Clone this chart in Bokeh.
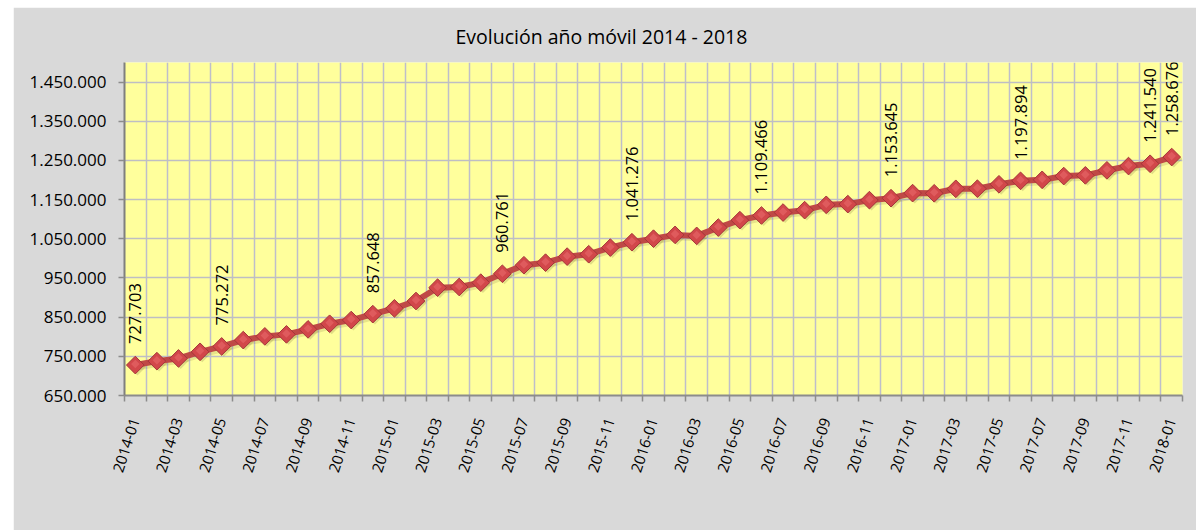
import math
from bokeh.plotting import figure
from bokeh.models import FixedTicker, Range1d
from bokeh.embed import file_html
from bokeh.resources import INLINE
from bokeh.core.properties import value

# ---- data ----
months = [f"{y}-{m:02d}" for y in range(2014, 2018) for m in range(1, 13)] + ["2018-01"]
values = [
    727703, 737700, 744600, 761500, 775272, 791400, 800900, 806000, 818800, 833100,
    842600, 857648, 872500, 891200, 925200, 927000, 938000, 960761, 982500, 989100,
    1004500, 1010600, 1027500, 1041276, 1050300, 1060000, 1057400, 1078600, 1097600, 1109466,
    1117000, 1123100, 1136700, 1138500, 1148700, 1153645, 1166600, 1166100, 1177600, 1177900,
    1189100, 1197894, 1200500, 1210100, 1211900, 1224700, 1235700, 1241540, 1258676,
]
label_idx = [0, 4, 11, 17, 23, 29, 35, 41, 47, 48]
y_ticks = [650000, 750000, 850000, 950000, 1050000, 1150000, 1250000, 1350000, 1450000]
title_text = "Evolución año móvil 2014 - 2018"


def fmt(v):
    return f"{v:,}".replace(",", ".")


FONT = "Open Sans"
xs = list(range(len(months)))

p = figure(
    frame_width=1058, frame_height=333,
    min_border_left=111, min_border_right=14, min_border_top=55, min_border_bottom=135,
    x_range=Range1d(-0.5, len(months) - 0.5),
    y_range=Range1d(650000, 1500000),
    output_backend="svg", toolbar_location=None,
    background_fill_color="#FFFF9C", border_fill_color="#D9D9D9",
    outline_line_color=None,
)
p.margin = (7, 0, 0, 13)

# title
p.title.text = title_text
p.title.text_font = FONT
p.title.text_font_size = "19.5px"
p.title.text_font_style = "normal"
p.title.text_color = "#000000"
p.title.align = "left"
p.title.offset = 331
p.title.standoff = 26

# x axis
xa = p.xaxis[0]
xa.ticker = FixedTicker(ticks=xs[::2], minor_ticks=[i - 0.5 for i in range(len(months) + 1)])
xa.major_label_overrides = {i: months[i] for i in xs[::2]}
xa.major_label_orientation = math.radians(72)
xa.major_label_text_font = FONT
xa.major_label_text_font_size = "15px"
xa.major_label_text_color = "#000000"
xa.major_tick_out = 0
xa.major_tick_in = 0
xa.minor_tick_out = 6
xa.minor_tick_in = 0
xa.minor_tick_line_color = "#8C8C8C"
xa.minor_tick_line_width = 1.5
xa.axis_line_color = "#8C8C8C"
xa.axis_line_width = 2
xa.major_label_standoff = 17

# y axis
ya = p.yaxis[0]
ya.ticker = FixedTicker(ticks=y_ticks)
ya.major_label_overrides = {t: fmt(t) for t in y_ticks}
ya.major_label_text_font = FONT
ya.major_label_text_font_size = "17px"
ya.major_label_text_color = "#000000"
ya.major_tick_out = 6
ya.major_tick_in = 0
ya.minor_tick_line_color = None
ya.major_tick_line_color = "#8C8C8C"
ya.major_tick_line_width = 1.5
ya.axis_line_color = "#7F7F7F"
ya.axis_line_width = 2
ya.major_label_standoff = 12

# grids
p.xgrid.grid_line_color = None
p.xgrid.minor_grid_line_color = "#BEBECB"
p.xgrid.minor_grid_line_width = 1.5
p.ygrid.grid_line_color = "#BEBEC4"
p.ygrid.grid_line_width = 1.5

# shadow
p.line([x + 0.1 for x in xs], [v - 5000 for v in values], line_color="#6B5A2A",
       line_alpha=0.16, line_width=7)
p.scatter([x + 0.1 for x in xs], [v - 5000 for v in values], marker="square", size=12,
          angle=math.pi / 4, fill_color="#6B5A2A", fill_alpha=0.2, line_color=None)
# series
p.line(xs, values, line_color="#BF4946", line_width=6)
p.scatter(xs, values, marker="square", size=12.5, angle=math.pi / 4,
          fill_color="#D2474A", line_color="#A3363A", line_width=1)
p.scatter(xs, [v + 2500 for v in values], marker="square", size=6, angle=math.pi / 4,
          fill_color="#E8696A", fill_alpha=0.6, line_color=None)

# data labels
p.text(
    x=[xs[i] for i in label_idx],
    y=[values[i] for i in label_idx],
    text=[fmt(values[i]) for i in label_idx],
    angle=math.pi / 2, text_align="left", text_baseline="middle",
    y_offset=-21, text_font=value(FONT), text_font_size="16.5px", text_color="#000000",
)

open("out.html", "w").write(file_html(p, INLINE))
